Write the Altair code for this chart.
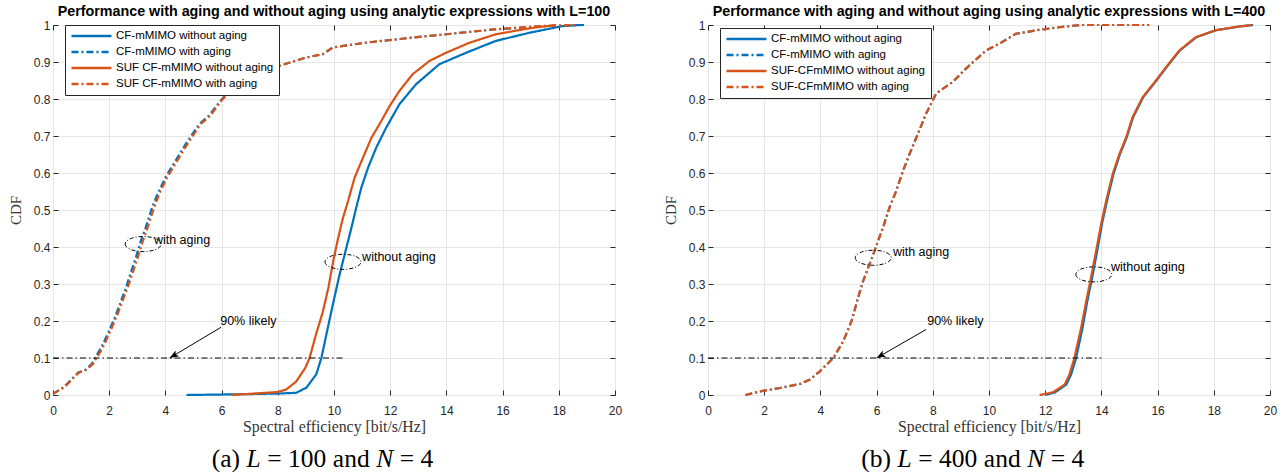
import math
import altair as alt
import pandas as pd

W, H = 562, 370

# ---------------- Panel (a): L = 100 ----------------
a_names = ["CF-mMIMO without aging", "CF-mMIMO with aging",
           "SUF CF-mMIMO without aging", "SUF CF-mMIMO with aging"]

a_cf_noage_x = [4.75, 6.65, 8.07, 8.66, 9.02, 9.37, 9.55, 9.73, 9.96, 10.2, 10.44, 10.62, 10.79,
                10.97, 11.21, 11.5, 11.86, 12.33, 12.92, 13.75, 14.7, 15.76, 16.95, 18.13, 18.72]
a_cf_noage_y = [0.0, 0.002, 0.004, 0.006, 0.02, 0.056, 0.10, 0.164, 0.245, 0.326, 0.398, 0.452, 0.506,
                0.56, 0.614, 0.668, 0.723, 0.786, 0.84, 0.894, 0.925, 0.957, 0.979, 0.997, 1.0]

a_cf_age_x = [0.0, 0.38, 0.9, 1.15, 1.38, 1.5, 1.72, 2.0, 2.25, 2.6, 2.95, 3.13, 3.3, 3.53, 3.72,
              4.0, 4.36, 4.72, 5.2, 5.55, 5.97, 6.5, 7.0, 7.5, 8.05, 8.4, 9.0, 9.6, 9.95, 11.1,
              12.8, 14.0, 15.7, 17.5, 18.9]
a_cf_age_y = [0.003, 0.021, 0.061, 0.068, 0.084, 0.10, 0.129, 0.174, 0.219, 0.291, 0.372, 0.417,
              0.453, 0.507, 0.543, 0.588, 0.633, 0.678, 0.732, 0.755, 0.796, 0.84, 0.862, 0.876,
              0.889, 0.898, 0.912, 0.921, 0.939, 0.952, 0.966, 0.975, 0.988, 0.997, 1.0]

a_suf_noage_x = [6.35, 8.0, 8.3, 8.65, 8.97, 9.13, 9.36, 9.6, 9.8, 9.98, 10.15, 10.32, 10.5, 10.73,
                 11.03, 11.33, 11.62, 11.98, 12.33, 12.8, 13.4, 13.99, 14.82, 15.76, 16.95, 17.9]
a_suf_noage_y = [0.0, 0.008, 0.015, 0.036, 0.072, 0.10, 0.164, 0.224, 0.29, 0.365, 0.425, 0.479,
                 0.524, 0.587, 0.641, 0.695, 0.732, 0.781, 0.822, 0.867, 0.903, 0.925, 0.952,
                 0.975, 0.991, 1.0]

a_suf_age_x = [0.0, 0.4, 0.93, 1.18, 1.42, 1.55, 1.78, 2.05, 2.3, 2.66, 3.02, 3.2, 3.37, 3.6, 3.78,
               4.06, 4.42, 4.78, 5.25, 5.6, 6.0, 6.52, 7.02, 7.5, 8.05, 8.4, 9.0, 9.6, 9.95, 11.1,
               12.8, 14.0, 15.7, 17.3, 18.6]
a_suf_age_y = a_cf_age_y

# ---------------- Panel (b): L = 400 ----------------
b_names = ["CF-mMIMO without aging", "CF-mMIMO with aging",
           "SUF-CFmMIMO without aging", "SUF-CFmMIMO with aging"]

b_age_x = [1.33, 1.86, 2.57, 3.28, 3.63, 3.98, 4.22, 4.46, 4.81, 5.11, 5.34, 5.52, 5.7, 5.88, 6.05,
           6.23, 6.46, 6.7, 6.94, 7.17, 7.47, 7.76, 8.12, 8.71, 9.18, 9.89, 10.36, 10.95, 11.78,
           12.73, 13.31, 15.7]
b_age_y = [0.0, 0.01, 0.019, 0.03, 0.042, 0.064, 0.082, 0.10, 0.145, 0.2, 0.263, 0.308, 0.344, 0.38,
           0.416, 0.453, 0.507, 0.552, 0.606, 0.651, 0.706, 0.76, 0.815, 0.846, 0.882, 0.931,
           0.949, 0.976, 0.987, 0.996, 1.0, 1.0]

b_suf_noage_x = [11.8, 12.27, 12.69, 12.86, 13.04, 13.28, 13.46, 13.63, 13.81, 13.99, 14.17, 14.4,
                 14.64, 14.88, 15.11, 15.47, 15.94, 16.3, 16.77, 17.36, 18.07, 18.9, 19.37]
b_cf_noage_x = [12.0, 12.35, 12.75, 12.92, 13.1, 13.33, 13.5, 13.67, 13.85, 14.02, 14.2, 14.43,
                14.66, 14.9, 15.13, 15.49, 15.96, 16.32, 16.79, 17.38, 18.09, 18.92, 19.4]
b_noage_y = [0.0, 0.007, 0.028, 0.055, 0.10, 0.182, 0.254, 0.317, 0.389, 0.462, 0.525, 0.597,
             0.651, 0.696, 0.751, 0.805, 0.85, 0.886, 0.931, 0.967, 0.986, 0.996, 1.0]

# ---------------- Annotations ----------------
a_hline = {"x": 0.0, "x2": 10.4, "y": 0.1}
b_hline = {"x": 0.0, "x2": 14.0, "y": 0.1}
a_arrow = {"tx": 5.98, "ty": 0.183, "hx": 4.15, "hy": 0.10}
b_arrow = {"tx": 7.76, "ty": 0.177, "hx": 6.0, "hy": 0.10}
a_ell_x, a_ell_y = [3.21, 10.32], [0.408, 0.36]
b_ell_x, b_ell_y = [5.88, 13.73], [0.371, 0.326]
a_lbl_x, a_lbl_y = [3.59, 11.0, 5.95], [0.419, 0.374, 0.2]
b_lbl_x, b_lbl_y = [6.58, 14.34, 7.8], [0.387, 0.346, 0.2]
lbl_text = ["with aging", "without aging", "90% likely"]

a_title = "Performance with aging and without aging using analytic expressions with L=100"
b_title = "Performance with aging and without aging using analytic expressions with L=400"

a_caption = [("(a)", 158.7, "normal"), ("L", 193.5, "italic"), ("=", 214.2, "normal"),
             ("100", 235.1, "normal"), ("and", 279.85, "normal"), ("N", 323.15, "italic"),
             ("=", 346.65, "normal"), ("4", 367.55, "normal")]
b_caption = [("(b)", 153.3, "normal"), ("L", 189.5, "italic"), ("=", 210.2, "normal"),
             ("400", 231.1, "normal"), ("and", 275.85, "normal"), ("N", 319.15, "italic"),
             ("=", 342.65, "normal"), ("4", 363.55, "normal")]

BLUE = "#0072BD"
ORANGE = "#D95319"
SOLID = [1, 0]
DASHDOT = [7, 3, 2, 3]
INK = "#262626"
SANS = "Liberation Sans"
SERIF = "Liberation Serif"

ELLIPSE = "M-1,0A1,0.42,0,1,0,1,0A1,0.42,0,1,0,-1,0Z"
ARROW = "M0,0L-0.42,1.1L0,0.85L0.42,1.1Z"


def series_df(items):
    rows = []
    for name, xs, ys in items:
        for i, (x, y) in enumerate(zip(xs, ys)):
            rows.append({"series": name, "x": x, "y": y, "i": i})
    return pd.DataFrame(rows)


def X(field):
    return alt.X(field, scale=alt.Scale(domain=[0, 20], nice=False, zero=False), axis=None)


def Y(field):
    return alt.Y(field, scale=alt.Scale(domain=[0, 1], nice=False, zero=False), axis=None)


def make_panel(df, names, title, hline, arrow, ell_x, ell_y, lbl_x, lbl_y, caption, leg_xy):
    x_axis = alt.Axis(values=list(range(0, 21, 2)), orient="bottom", offset=-5, tickSize=5,
                      labelPadding=10, labelFlush=False, domain=False, grid=True,
                      gridColor="#e6e6e6", tickColor=INK, labelColor=INK, labelFont=SANS,
                      labelFontSize=12, title="Spectral efficiency [bit/s/Hz]", titleFont=SERIF,
                      titleFontSize=15.8, titleFontWeight="normal", titleColor="#333333",
                      titlePadding=3)
    y_axis = alt.Axis(values=[round(0.1 * k, 1) for k in range(11)], format="~g", orient="left",
                      offset=-5, tickSize=5, labelPadding=3, labelFlush=False, domain=False,
                      grid=True, gridColor="#e6e6e6", tickColor=INK, labelColor=INK,
                      labelFont=SANS, labelFontSize=12, title="CDF", titleFont=SERIF,
                      titleFontSize=15, titleFontWeight="normal", titleColor="#333333",
                      titlePadding=10)
    legend = alt.Legend(orient="none", legendX=leg_xy[0], legendY=leg_xy[1], title=None)

    lines = alt.Chart(df).mark_line(strokeWidth=2.2).encode(
        x=alt.X("x:Q", scale=alt.Scale(domain=[0, 20], nice=False, zero=False), axis=x_axis),
        y=alt.Y("y:Q", scale=alt.Scale(domain=[0, 1], nice=False, zero=False), axis=y_axis),
        color=alt.Color("series:N", scale=alt.Scale(domain=names, range=[BLUE, BLUE, ORANGE, ORANGE]),
                        legend=legend, sort=names),
        strokeDash=alt.StrokeDash("series:N", scale=alt.Scale(domain=names,
                                  range=[SOLID, DASHDOT, SOLID, DASHDOT]), legend=legend, sort=names),
        order="i:Q",
    )

    hl = alt.Chart(pd.DataFrame([hline])).mark_rule(color="black", strokeWidth=1,
                                                     strokeDash=[6, 3, 1.5, 3]).encode(
        x=X("x:Q"), x2="x2:Q", y=Y("y:Q"))

    arr = alt.Chart(pd.DataFrame([arrow])).mark_rule(color="black", strokeWidth=1).encode(
        x=X("tx:Q"), y=Y("ty:Q"), x2="hx:Q", y2="hy:Q")

    dx = (arrow["hx"] - arrow["tx"]) * W / 20.0
    dy = -(arrow["hy"] - arrow["ty"]) * H
    ang = (math.degrees(math.atan2(dx, -dy)) + 360) % 360
    head = alt.Chart(pd.DataFrame([arrow])).mark_point(shape=ARROW, filled=True, color="black",
                                                       opacity=1, size=270, angle=ang).encode(
        x=X("hx:Q"), y=Y("hy:Q"))

    ell = alt.Chart(pd.DataFrame({"x": ell_x, "y": ell_y})).mark_point(
        shape=ELLIPSE, filled=False, color="black", opacity=1, strokeWidth=1, size=1296,
        strokeDash=[4, 2, 1, 2]).encode(x=X("x:Q"), y=Y("y:Q"))

    txt = alt.Chart(pd.DataFrame({"x": lbl_x, "y": lbl_y, "t": lbl_text})).mark_text(
        align="left", baseline="middle", font=SANS, fontSize=12.5, color="black").encode(
        x=X("x:Q"), y=Y("y:Q"), text="t:N")

    cap_layers = []
    for s, px, style in caption:
        cap_layers.append(
            alt.Chart(pd.DataFrame({"t": [s]})).mark_text(
                align="left", baseline="alphabetic", font=SERIF, fontSize=25.5, fontStyle=style,
                color="black").encode(x=alt.value(px), y=alt.value(441.7), text="t:N"))

    frame = alt.Chart(pd.DataFrame({"x": [0.0], "y": [0.0]})).mark_point(opacity=0).encode(
        x=alt.X("x:Q", scale=alt.Scale(domain=[0, 20], nice=False, zero=False),
                axis=alt.Axis(orient="top", labels=False, domain=False, grid=False, ticks=True,
                              tickSize=5, offset=-5, tickColor=INK, title=None,
                              values=list(range(0, 21, 2)))),
        y=alt.Y("y:Q", scale=alt.Scale(domain=[0, 1], nice=False, zero=False),
                axis=alt.Axis(orient="right", labels=False, domain=False, grid=False, ticks=True,
                              tickSize=5, offset=-5, tickColor=INK, title=None,
                              values=[round(0.1 * k, 1) for k in range(11)])))

    return alt.layer(lines, frame, hl, arr, head, ell, txt, *cap_layers).resolve_axis(
        x="independent", y="independent").properties(
        width=W, height=H,
        title=alt.TitleParams(title, font=SANS, fontSize=14.3, fontWeight="bold", anchor="middle",
                              offset=0, color="black"))


df_a = series_df([(a_names[0], a_cf_noage_x, a_cf_noage_y), (a_names[1], a_cf_age_x, a_cf_age_y),
                  (a_names[2], a_suf_noage_x, a_suf_noage_y), (a_names[3], a_suf_age_x, a_suf_age_y)])
df_b = series_df([(b_names[0], b_cf_noage_x, b_noage_y), (b_names[1], b_age_x, b_age_y),
                  (b_names[2], b_suf_noage_x, b_noage_y), (b_names[3], b_age_x, b_age_y)])

pa = make_panel(df_a, a_names, a_title, a_hline, a_arrow, a_ell_x, a_ell_y, a_lbl_x, a_lbl_y,
                a_caption, (12, 0))
pb = make_panel(df_b, b_names, b_title, b_hline, b_arrow, b_ell_x, b_ell_y, b_lbl_x, b_lbl_y,
                b_caption, (12, 3))

chart = alt.hconcat(pa, pb, spacing=93, bounds="flush").resolve_scale(
    color="independent", strokeDash="independent").configure_view(
    stroke=INK, strokeWidth=1).configure_legend(
    strokeColor=INK, fillColor="white", padding=5, labelFont=SANS, labelFontSize=11.5,
    labelColor="black", symbolType="stroke", symbolSize=1600, symbolStrokeWidth=2.4,
    rowPadding=4, clipHeight=12, labelOffset=3, cornerRadius=0).properties(
    padding={"left": 7, "top": 4, "right": 5, "bottom": 0}, background="white")

chart.save("out.html", embed_options={"renderer": "svg", "actions": False})
